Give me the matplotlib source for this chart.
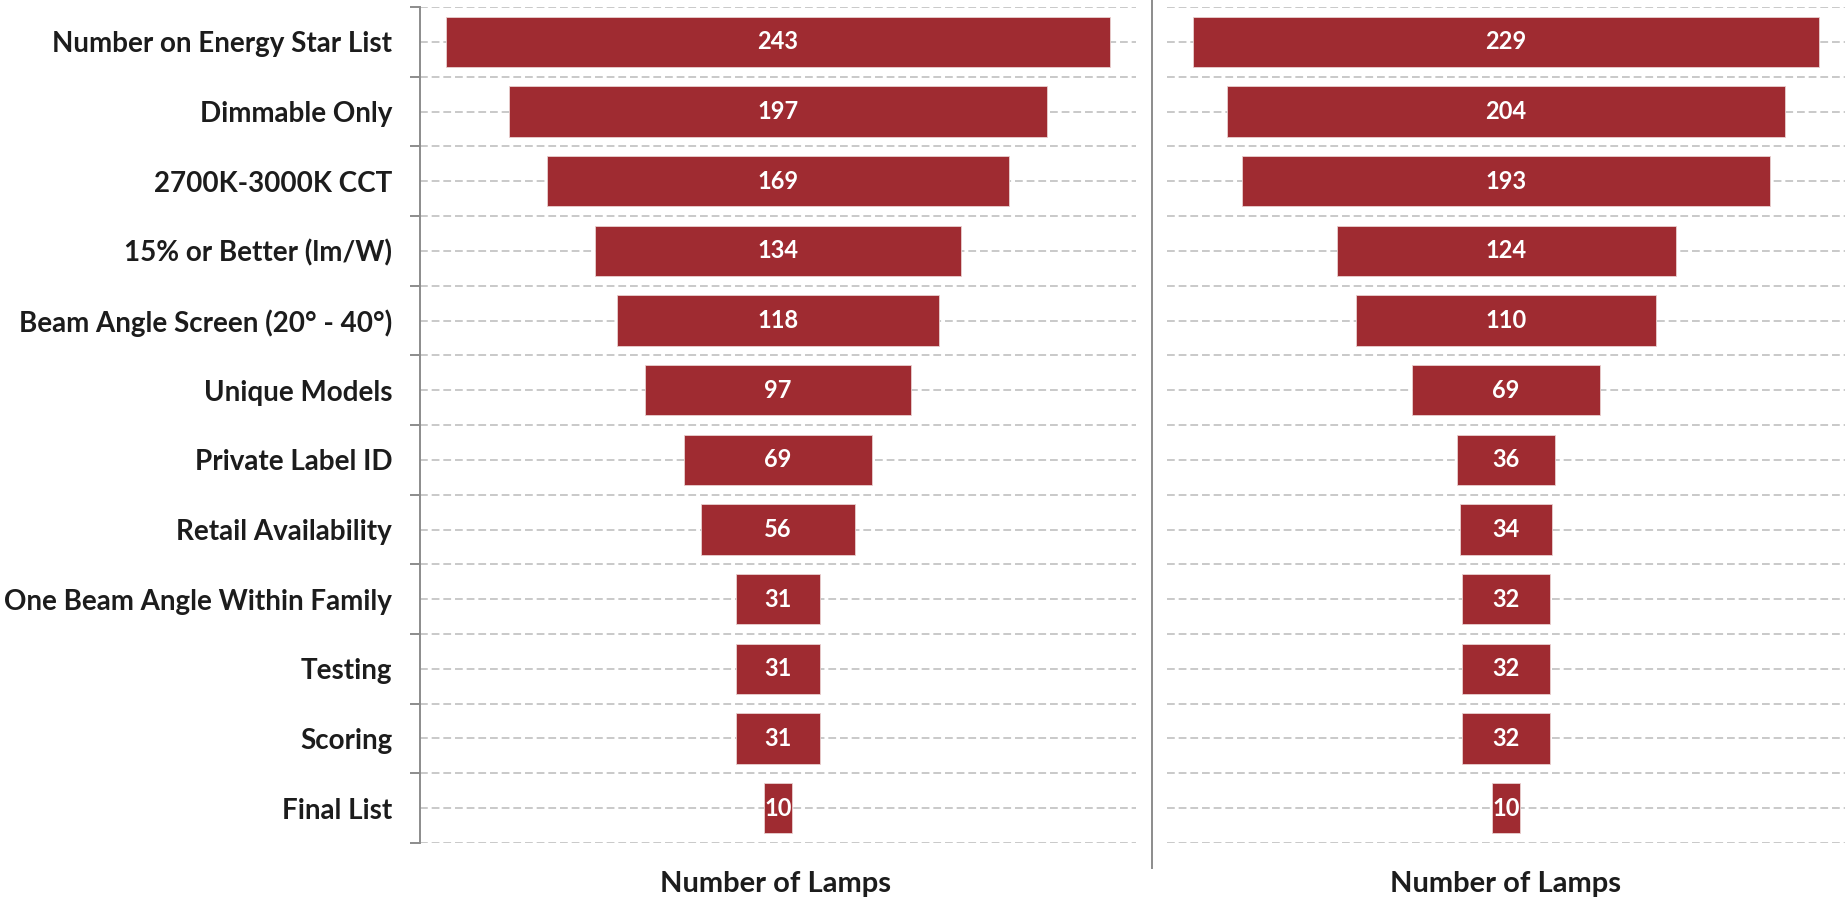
import matplotlib
matplotlib.use("Agg")
import matplotlib.pyplot as plt
import numpy as np

STAGES = [
    "Number on Energy Star List", "Dimmable Only", "2700K-3000K CCT",
    "15% or Better (lm/W)", "Beam Angle Screen (20° - 40°)", "Unique Models",
    "Private Label ID", "Retail Availability", "One Beam Angle Within Family",
    "Testing", "Scoring", "Final List",
]
LEFT_COUNTS  = [243, 197, 169, 134, 118, 97, 69, 56, 31, 31, 31, 10]
RIGHT_COUNTS = [229, 204, 193, 124, 110, 69, 36, 34, 32, 32, 32, 10]

BAR_COLOR  = "#9f2b31"
GRID_COLOR = "#c9c9c9"
TEXT_COLOR = "#1c1c1c"

plt.rcParams["font.family"] = ["Lato", "DejaVu Sans"]

W, H = 1845, 901
fig = plt.figure(figsize=(W / 100, H / 100), dpi=100)

def px_axes(x0, x1, ytop, ybot):
    return fig.add_axes([x0 / W, 1 - ybot / H, (x1 - x0) / W, (ybot - ytop) / H])

ax_l = px_axes(420, 1136, 7, 843)
ax_r = px_axes(1167, 1845, 7, 843)

y = np.arange(len(STAGES))

def funnel(ax, counts, half_width):
    ax.barh(y, counts, left=-np.array(counts) / 2, height=0.72,
            color=BAR_COLOR, edgecolor="#e9d0d0", linewidth=0.6, zorder=3)
    for yi, v in zip(y, counts):
        ax.text(0, yi, str(v), ha="center", va="center", color="white",
                fontsize=17, fontweight="bold", zorder=4)
    for g in np.arange(-0.5, len(STAGES), 0.5):
        ax.axhline(g, color=GRID_COLOR, lw=1.4, dashes=(4, 2), zorder=1)
    ax.set_xlim(-half_width, half_width)
    ax.set_ylim(len(STAGES) - 0.5, -0.5)
    ax.set_xticks([])
    for s in ["top", "right", "bottom"]:
        ax.spines[s].set_visible(False)
    ax.set_xlabel("Number of Lamps", fontsize=21, fontweight="bold",
                  color=TEXT_COLOR)

funnel(ax_l, LEFT_COUNTS, 131)
funnel(ax_r, RIGHT_COUNTS, 124)

# left panel: category names, boundary ticks on the spine
ax_l.spines["left"].set_color("#8c8c8c")
ax_l.spines["left"].set_linewidth(1.4)
ax_l.set_yticks(y)
ax_l.set_yticklabels(STAGES, fontsize=20, fontweight="bold", color=TEXT_COLOR)
ax_l.tick_params(axis="y", which="major", length=0, pad=20)
ax_l.set_yticks(np.arange(-0.5, len(STAGES), 1.0), minor=True)
ax_l.tick_params(axis="y", which="minor", length=7, width=1.4, color="#8c8c8c")
ax_l.xaxis.set_label_coords(0.496, -0.033)

ax_r.spines["left"].set_visible(False)
ax_r.set_yticks([])
ax_r.xaxis.set_label_coords(0.5, -0.033)

# vertical divider between the two funnels
fig.add_artist(plt.Line2D([1152 / W, 1152 / W], [1.0, 1 - 868 / H],
                          color="#8c8c8c", lw=1.4))

fig.savefig("out.png", dpi=100)
